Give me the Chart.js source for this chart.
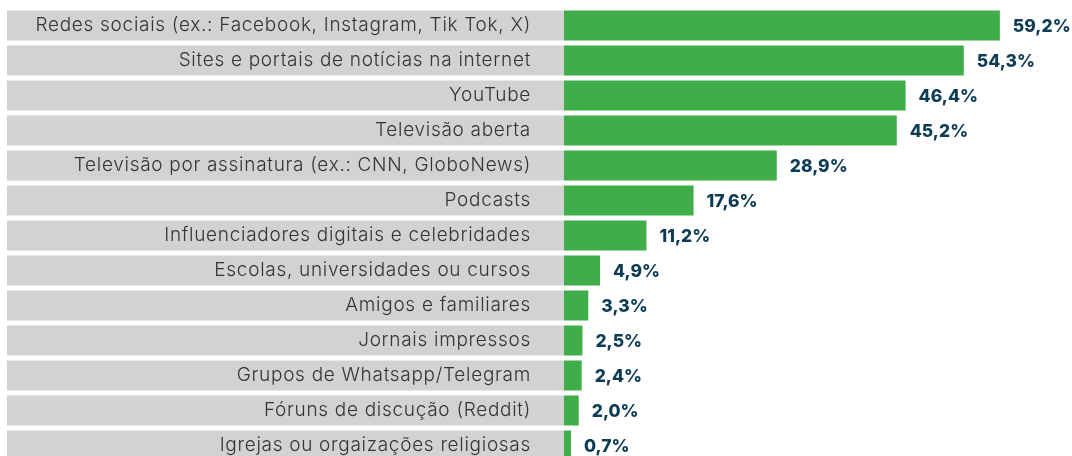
<!DOCTYPE html>
<html>
<head>
<meta charset="utf-8">
<script src="https://cdn.jsdelivr.net/npm/chart.js@4"></script>
<style>
  html, body { margin: 0; padding: 0; background: #fff; overflow: hidden; }
  #wrap { position: relative; width: 1072px; height: 463px; }
</style>
</head>
<body>
<div id="wrap"><canvas id="chart"></canvas></div>
<script>
// Categories and percentages
const categories = [
    'Redes sociais (ex.: Facebook, Instagram, Tik Tok, X)',
    'Sites e portais de notícias na internet',
    'YouTube',
    'Televisão aberta',
    'Televisão por assinatura (ex.: CNN, GloboNews)',
    'Podcasts',
    'Influenciadores digitais e celebridades',
    'Escolas, universidades ou cursos',
    'Amigos e familiares',
    'Jornais impressos',
    'Grupos de Whatsapp/Telegram',
    'Fóruns de discução (Reddit)',
    'Igrejas ou orgaizações religiosas'
];
const values = [59.2, 54.3, 46.4, 45.2, 28.9, 17.6, 11.2, 4.9, 3.3, 2.5, 2.4, 2.0, 0.7];

const GREEN = '#3fae49';
const GREY = '#d1d2d4';
const VALUE_COLOR = '#0d3d55';

// grey band behind each category label (drawn before the axis text)
const bandPlugin = {
    id: 'bands',
    beforeDraw(chart) {
        const ctx = chart.ctx;
        const yScale = chart.scales.y;
        const meta = chart.getDatasetMeta(0);
        ctx.save();
        ctx.fillStyle = GREY;
        meta.data.forEach(bar => {
            const h = bar.height;
            ctx.fillRect(yScale.left, bar.y - h / 2, yScale.right - yScale.left, h);
        });
        ctx.restore();
        // wider tracking for the category text
        ctx.letterSpacing = '0.7px';
    },
    afterDraw(chart) {
        chart.ctx.letterSpacing = '0px';
    }
};

// percentage labels at bar ends
const valueLabels = {
    id: 'valueLabels',
    afterDatasetsDraw(chart) {
        const ctx = chart.ctx;
        const meta = chart.getDatasetMeta(0);
        ctx.save();
        ctx.letterSpacing = '0px';
        ctx.fillStyle = VALUE_COLOR;
        ctx.font = '800 17.5px Inter';
        ctx.textBaseline = 'middle';
        ctx.textAlign = 'left';
        meta.data.forEach((bar, i) => {
            const txt = values[i].toFixed(1).replace('.', ',') + '%';
            ctx.fillText(txt, bar.x + 13, bar.y + 1);
        });
        ctx.restore();
    }
};

new Chart(document.getElementById('chart'), {
    type: 'bar',
    data: {
        labels: categories,
        datasets: [{
            data: values,
            backgroundColor: GREEN,
            borderWidth: 0,
            minBarLength: 7,
            categoryPercentage: 1,
            barPercentage: 30 / 35
        }]
    },
    options: {
        indexAxis: 'y',
        responsive: true,
        maintainAspectRatio: false,
        animation: false,
        layout: { padding: { left: 7, right: 0, top: 8, bottom: 0 } },
        plugins: {
            legend: { display: false },
            tooltip: { enabled: false }
        },
        scales: {
            x: {
                min: 0,
                max: 69,
                display: false,
                grid: { display: false }
            },
            y: {
                grid: { display: false, drawTicks: false },
                border: { display: false },
                afterFit(scale) {
                    scale.width = 557;
                    scale.paddingTop = 0;
                    scale.paddingBottom = 0;
                },
                ticks: {
                    color: '#353535',
                    padding: 33,
                    font: { family: 'Inter', size: 19, weight: '300' }
                }
            }
        }
    },
    plugins: [bandPlugin, valueLabels]
});
</script>
</body>
</html>
